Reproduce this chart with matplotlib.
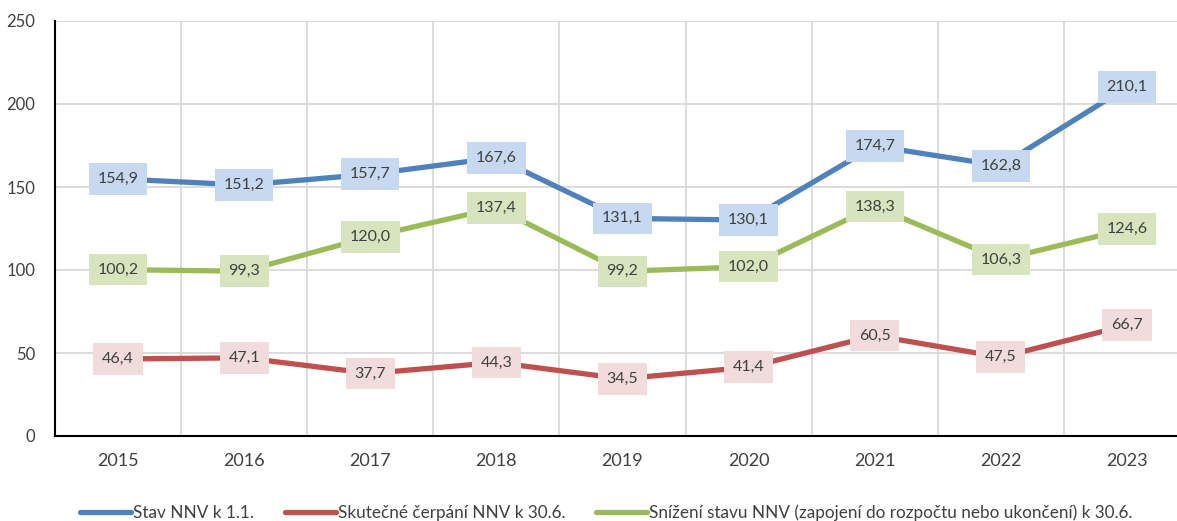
import numpy as np
import matplotlib
matplotlib.use("Agg")
import matplotlib.pyplot as plt

# data
years = ["2015", "2016", "2017", "2018", "2019", "2020", "2021", "2022", "2023"]
stav = [154.9, 151.2, 157.7, 167.6, 131.1, 130.1, 174.7, 162.8, 210.1]
cerpani = [46.4, 47.1, 37.7, 44.3, 34.5, 41.4, 60.5, 47.5, 66.7]
snizeni = [100.2, 99.3, 120.0, 137.4, 99.2, 102.0, 138.3, 106.3, 124.6]
names = ["Stav NNV k 1.1.",
         "Skutečné čerpání NNV k 30.6.",
         "Snížení stavu NNV (zapojení do rozpočtu nebo ukončení) k 30.6."]

plt.rcParams['font.family'] = ['Lato', 'DejaVu Sans']
txt = "#404040"

fig = plt.figure(figsize=(11.77, 5.21), dpi=100)
ax = fig.add_axes([55 / 1177, 1 - 436 / 521, 1135 / 1177, 415 / 521])

x = np.arange(len(years))
series = [(stav, "#4f81bd", "#c6d9f1"),
          (cerpani, "#c0504d", "#f2dcdb"),
          (snizeni, "#9bbb59", "#d7e4bd")]

for (vals, col, bg), name in zip(series, names):
    ax.plot(x, vals, color=col, lw=3.8, solid_capstyle="round",
            solid_joinstyle="round", label=name, zorder=3)
    for xi, v in zip(x, vals):
        ax.text(xi, v, f"{v:.1f}".replace(".", ","), ha="center", va="center",
                fontsize=11.5, color=txt, zorder=4,
                bbox=dict(boxstyle="square,pad=0.55", fc=bg, ec="none"))

ax.set_xlim(-0.5, len(years) - 0.5)
ax.set_ylim(0, 250)
ax.set_yticks(np.arange(0, 251, 50))
ax.set_xticks(x)
ax.set_xticklabels(years, fontsize=13, color=txt)
ax.set_xticks(np.arange(0.5, len(years) - 0.5, 1), minor=True)
ax.tick_params(axis="y", labelsize=12, colors=txt, length=0, pad=14)
ax.tick_params(axis="x", which="both", length=0, pad=12)
ax.grid(axis="y", color="#d9d9d9", lw=1.3)
ax.grid(axis="x", which="minor", color="#d9d9d9", lw=1.3)
ax.set_axisbelow(True)
for s in ["top", "right"]:
    ax.spines[s].set_visible(False)
ax.spines["left"].set_linewidth(1.5)
ax.spines["bottom"].set_linewidth(1.5)

leg = fig.legend(loc="lower center", ncol=3, frameon=False, fontsize=12.3,
                 bbox_to_anchor=(0.515, -0.03), handlelength=3.0,
                 handletextpad=0.1, columnspacing=1.8, labelcolor=txt)

fig.savefig("out.png", dpi=100)
